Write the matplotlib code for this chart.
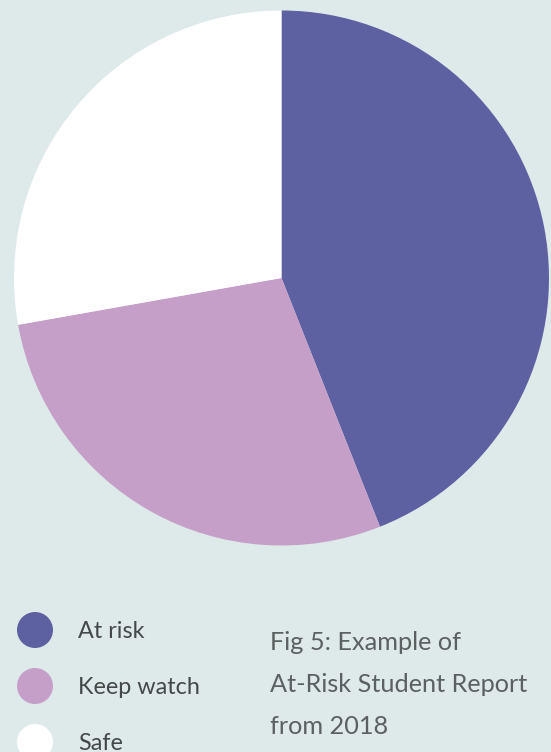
import matplotlib
matplotlib.use("Agg")
import matplotlib.pyplot as plt

categories = ["At risk", "Keep watch", "Safe"]
values = [44.0, 28.2, 27.8]
colors = ["#5d60a1", "#c59fc8", "#ffffff"]
caption = "Fig 5: Example of\nAt-Risk Student Report\nfrom 2018"

bg = "#dee9ea"
W, H = 551, 752
fig = plt.figure(figsize=(W / 100, H / 100), dpi=100, facecolor=bg)
ax = fig.add_axes([0, 0, 1, 1])
ax.set_facecolor(bg)

def fy(y):
    return H - y

ax.pie(values, colors=colors, startangle=90, counterclock=False,
       center=(281.5, fy(278)), radius=267.5, frame=True,
       wedgeprops=dict(linewidth=0))
ax.set_xlim(0, W)
ax.set_ylim(0, H)
ax.set_aspect("equal")
ax.axis("off")

font = ["Lato", "DejaVu Sans"]
ys = [630, 686, 742]
for cat, col, y in zip(categories, colors, ys):
    ax.add_patch(plt.Circle((35, fy(y)), 18, color=col, lw=0))
    ax.text(78, fy(y + 1), cat, fontsize=16.8, color="#434848", va="center",
            ha="left", family=font)

lines = caption.split("\n")
for i, ln in enumerate(lines):
    ax.text(270, fy(650 + 42 * i), ln, fontsize=18.2, color="#5b6060",
            va="baseline", ha="left", family=font)

fig.savefig("out.png", dpi=100, facecolor=bg)
